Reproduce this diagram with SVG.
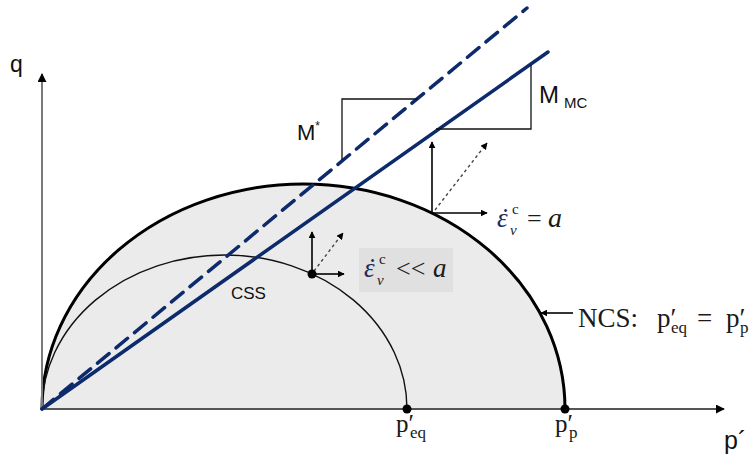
<svg xmlns="http://www.w3.org/2000/svg" width="752" height="457" viewBox="0 0 752 457">
<style>
.sans{font-family:"Liberation Sans",Arial,sans-serif;fill:#111}
.serif{font-family:"Liberation Serif","Times New Roman",serif;fill:#1a1a1a}
.it{font-style:italic}
.eps{fill:#1b2a55}
.arr{stroke:#000;stroke-width:1.6;fill:none;marker-end:url(#ah)}
.darr{stroke:#444;stroke-width:1.4;fill:none;stroke-dasharray:3 3;marker-end:url(#ah)}
.tri{stroke:#111;stroke-width:1.3;fill:none}
</style>
<defs>
<marker id="ah" viewBox="0 0 10 10" refX="9" refY="5" markerWidth="7" markerHeight="7" markerUnits="userSpaceOnUse" orient="auto"><path d="M0,0 L10,5 L0,10 z" fill="#000"/></marker>
<marker id="axh" viewBox="0 0 10 10" refX="9" refY="5" markerWidth="9" markerHeight="9" markerUnits="userSpaceOnUse" orient="auto"><path d="M0,0 L10,5 L0,10 z" fill="#000"/></marker>
</defs>
<g id="ncs">
<path d="M42,409 A261.5,225 0 0 1 565,409 Z" fill="#ebebeb" stroke="none"/>
<path d="M42,409 A261.5,225 0 0 1 565,409" fill="none" stroke="#000" stroke-width="3"/>
</g>
<g id="css-box"><rect x="359" y="248" width="94" height="44" fill="#e0e0e0"/></g>
<g id="css">
<path d="M42,409 A182.5,154 0 0 1 407,409" fill="none" stroke="#111" stroke-width="1.4"/>
</g>
<g id="axes">
<line x1="42" y1="409" x2="42" y2="74" stroke="#7a7a7a" stroke-width="2" marker-end="url(#axh)"/>
<line x1="42" y1="409" x2="724" y2="409" stroke="#555" stroke-width="2" marker-end="url(#axh)"/>
</g>
<g id="lines">
<line x1="42" y1="409" x2="527" y2="8" stroke="#0c2a6c" stroke-width="3.5" stroke-dasharray="15 9" stroke-linecap="round"/>
<line x1="42" y1="409" x2="548" y2="52" stroke="#0c2a6c" stroke-width="3.5" stroke-linecap="round"/>
</g>
<g id="triangles">
<polyline class="tri" points="342,160 342,99 417,99"/>
<polyline class="tri" points="436,129 531,129 531,65"/>
</g>
<g id="connectors">
<line class="arr" x1="432" y1="213" x2="432" y2="142"/>
<line class="arr" x1="432" y1="213" x2="487" y2="213"/>
<line class="darr" x1="435" y1="210" x2="487" y2="143"/>
<line class="arr" x1="312" y1="274" x2="312" y2="232"/>
<line class="arr" x1="312" y1="274" x2="344" y2="274"/>
<line class="darr" x1="314" y1="271" x2="343" y2="233"/>
<line class="arr" x1="573" y1="313" x2="541" y2="313"/>
</g>
<g id="points">
<circle cx="312" cy="274" r="4.5" fill="#000"/>
<circle cx="407" cy="409" r="4.5" fill="#000"/>
<circle cx="565" cy="409" r="4.5" fill="#000"/>
</g>
<g id="labels">
<text class="sans" x="10" y="72" font-size="23">q</text>
<text class="sans" x="724" y="449" font-size="25">p´</text>
<text class="sans" x="297" y="140" font-size="22">M<tspan font-size="12" dy="-10">*</tspan></text>
<text class="sans" x="539" y="103" font-size="24">M<tspan font-size="15" dx="5" dy="5">MC</tspan></text>
<text class="sans" x="231" y="299" font-size="17">CSS</text>
<text class="serif" y="327" font-size="27"><tspan x="578">NCS:</tspan><tspan x="657">p′</tspan><tspan x="671" dy="6" font-size="17">eq</tspan><tspan x="697" dy="-6">=</tspan><tspan x="726">p′</tspan><tspan x="740" dy="6" font-size="17">p</tspan></text>
<text class="serif" y="432" font-size="25"><tspan x="396">p′</tspan><tspan x="410" dy="6" font-size="17">eq</tspan></text>
<text class="serif" y="432" font-size="25"><tspan x="555">p′</tspan><tspan x="569" dy="6" font-size="17">p</tspan></text>
<text class="serif" y="277" font-size="27"><tspan x="364" class="it eps">ε</tspan><tspan x="368" class="eps">˙</tspan><tspan x="379" dy="-13" font-size="15">c</tspan><tspan x="377" dy="21" font-size="15" class="it">v</tspan><tspan x="396" dy="-8" font-size="26">&lt;&lt;</tspan><tspan x="433" class="it">a</tspan></text>
<text class="serif" y="227" font-size="27"><tspan x="497" class="it eps">ε</tspan><tspan x="501" class="eps">˙</tspan><tspan x="512" dy="-13" font-size="15">c</tspan><tspan x="510" dy="21" font-size="15" class="it">v</tspan><tspan x="527" dy="-8" font-size="26">=</tspan><tspan x="548" font-size="28" class="it">a</tspan></text>
</g>
</svg>
